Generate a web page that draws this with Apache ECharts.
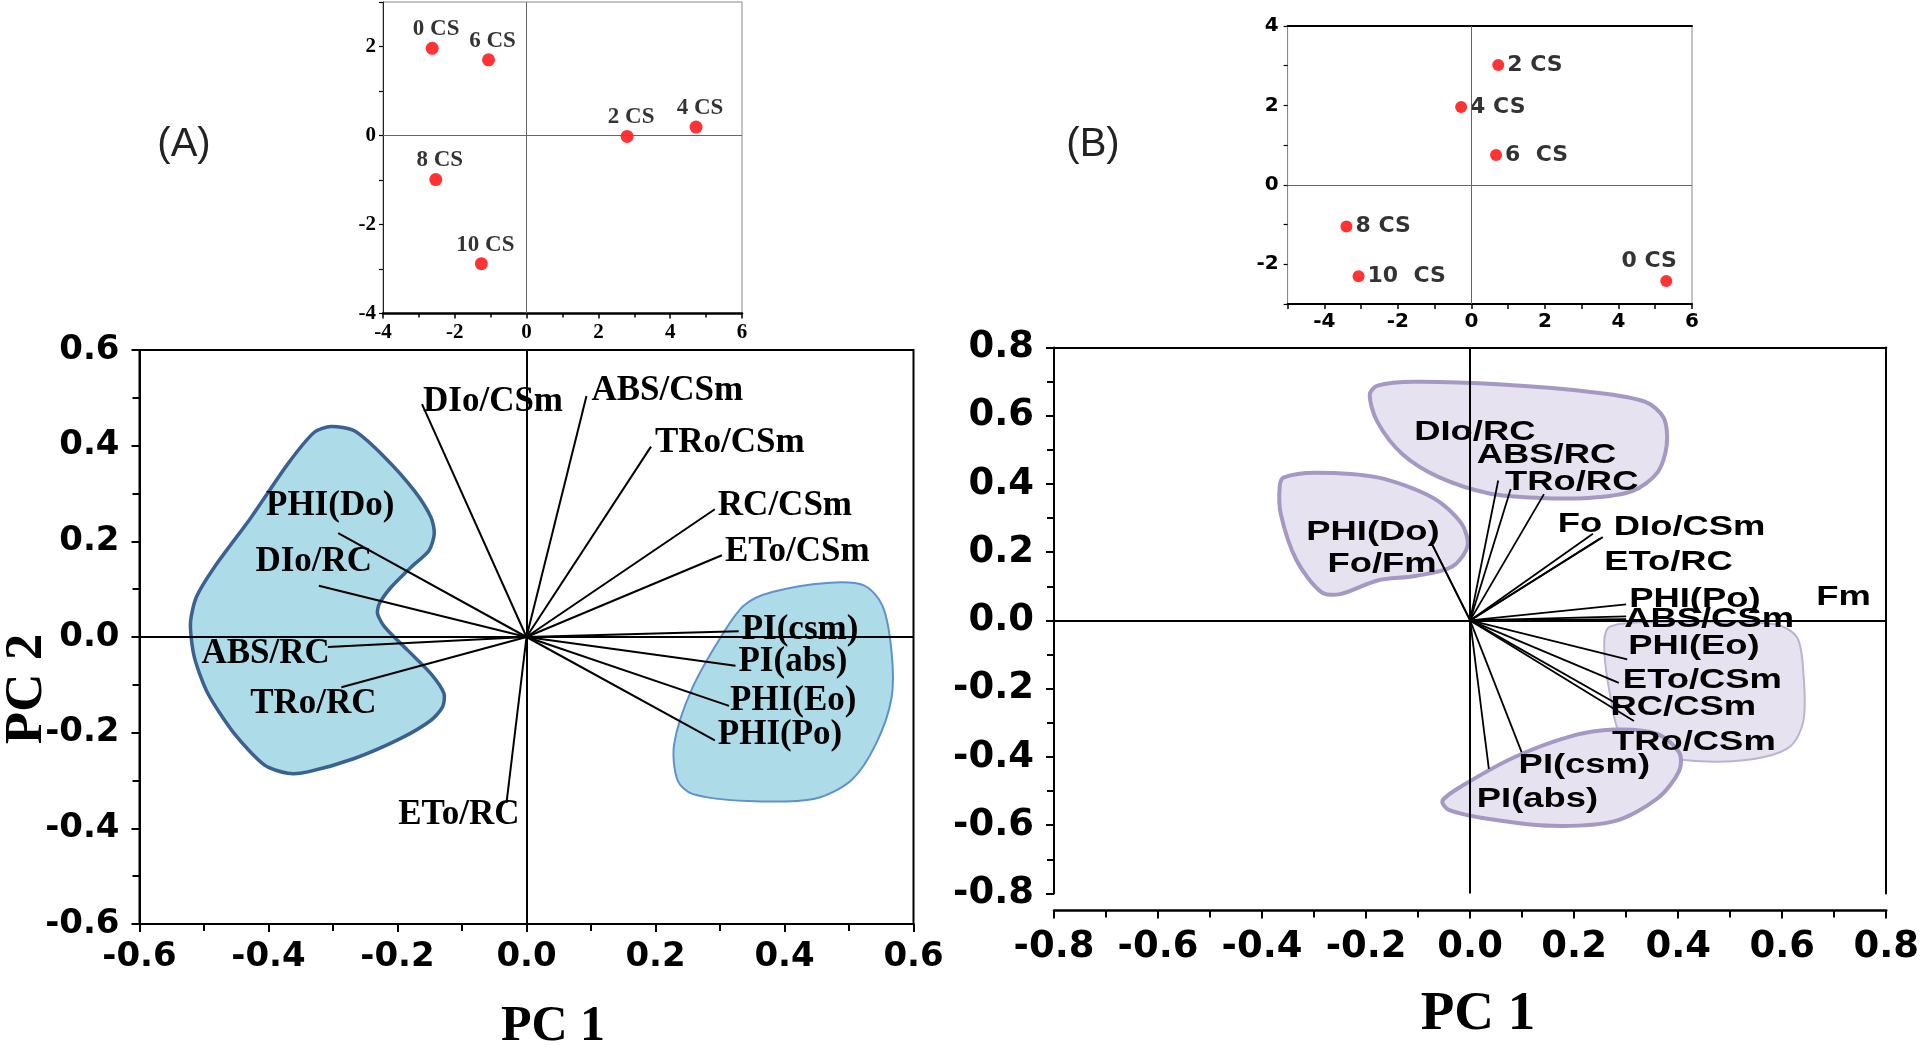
<!DOCTYPE html>
<html><head><meta charset="utf-8">
<script src="https://cdn.jsdelivr.net/npm/echarts@6/dist/echarts.min.js"></script>
<style>html,body{margin:0;padding:0;background:#fff}#c{width:1922px;height:1050px}</style>
</head><body><div id="c"></div>
<script>
// ---------- Inset score plots ----------
const insetACategories = ['0 CS', '6 CS', '2 CS', '4 CS', '8 CS', '10 CS'];
const insetAPC1 = [-2.63, -1.06, 2.80, 4.72, -2.53, -1.26];
const insetAPC2 = [1.96, 1.70, -0.02, 0.19, -0.99, -2.88];

const insetBCategories = ['2 CS', '4 CS', '6  CS', '8 CS', '10  CS', '0 CS'];
const insetBPC1 = [0.73, -0.28, 0.67, -3.40, -3.07, 5.30];
const insetBPC2 = [3.02, 1.96, 0.75, -1.05, -2.30, -2.42];

// ---------- Loading plot (A) ----------
const loadingANames = ['DIo/CSm', 'ABS/CSm', 'TRo/CSm', 'RC/CSm', 'ETo/CSm', 'PI(csm)', 'PI(abs)', 'PHI(Eo)', 'PHI(Po)', 'ETo/RC', 'PHI(Do)', 'DIo/RC', 'ABS/RC', 'TRo/RC'];
const loadingAPC1 = [-0.162, 0.093, 0.193, 0.292, 0.303, 0.329, 0.324, 0.314, 0.292, -0.031, -0.292, -0.322, -0.308, -0.287];
const loadingAPC2 = [0.487, 0.504, 0.398, 0.267, 0.171, 0.012, -0.060, -0.144, -0.216, -0.347, 0.217, 0.107, -0.021, -0.105];

// ---------- Loading plot (B) ----------
const loadingBNames = ['DIo/RC', 'ABS/RC', 'TRo/RC', 'Fo', 'DIo/CSm', 'ETo/RC', 'PHI(Po)', 'Fm', 'ABS/CSm', 'PHI(Eo)', 'ETo/CSm', 'RC/CSm', 'TRo/CSm', 'PI(csm)', 'PI(abs)', 'PHI(Do)', 'Fo/Fm'];
const loadingBPC1 = [0.054, 0.078, 0.142, 0.236, 0.255, 0.250, 0.300, 0.300, 0.300, 0.302, 0.286, 0.293, 0.315, 0.099, 0.036, -0.072, -0.072];
const loadingBPC2 = [0.410, 0.385, 0.370, 0.254, 0.244, 0.240, 0.047, 0.004, 0.012, -0.114, -0.183, -0.254, -0.295, -0.386, -0.435, 0.220, 0.220];

// ---------- Group outlines (data coordinates) ----------
const hullALeft = [[-0.303,0.440],[-0.267,0.431],[-0.220,0.376],[-0.174,0.306],[-0.148,0.250],[-0.143,0.216],[-0.151,0.181],[-0.179,0.146],[-0.210,0.104],[-0.228,0.070],[-0.231,0.049],[-0.220,0.021],[-0.184,-0.028],[-0.148,-0.077],[-0.128,-0.118],[-0.130,-0.146],[-0.148,-0.174],[-0.195,-0.212],[-0.267,-0.254],[-0.339,-0.282],[-0.370,-0.285],[-0.406,-0.268],[-0.453,-0.202],[-0.494,-0.118],[-0.515,-0.042],[-0.521,0.028],[-0.512,0.083],[-0.484,0.146],[-0.427,0.250],[-0.370,0.362],[-0.329,0.428]];
const hullARight = [[0.338,0.067],[0.381,0.094],[0.466,0.113],[0.523,0.108],[0.552,0.065],[0.566,-0.031],[0.566,-0.127],[0.542,-0.223],[0.504,-0.299],[0.447,-0.338],[0.343,-0.343],[0.257,-0.328],[0.234,-0.299],[0.229,-0.223],[0.257,-0.107],[0.305,0.008]];
const hullBTop = [[-0.178,0.688],[-0.106,0.699],[0.061,0.691],[0.240,0.668],[0.336,0.641],[0.372,0.594],[0.378,0.514],[0.360,0.433],[0.312,0.379],[0.228,0.359],[0.133,0.359],[0.037,0.372],[-0.059,0.419],[-0.130,0.487],[-0.178,0.581],[-0.193,0.661]];
const hullBLeft = [[-0.358,0.419],[-0.298,0.433],[-0.178,0.419],[-0.071,0.359],[-0.017,0.285],[-0.005,0.218],[-0.035,0.157],[-0.106,0.130],[-0.178,0.117],[-0.250,0.077],[-0.286,0.083],[-0.334,0.177],[-0.364,0.312],[-0.366,0.393]];
const hullBRight = [[0.264,-0.024],[0.300,-0.008],[0.420,-0.004],[0.587,-0.011],[0.629,-0.051],[0.641,-0.159],[0.641,-0.293],[0.617,-0.367],[0.563,-0.401],[0.479,-0.414],[0.396,-0.407],[0.336,-0.387],[0.288,-0.333],[0.270,-0.226],[0.258,-0.091]];
const hullBBottom = [[-0.053,-0.528],[-0.011,-0.481],[0.085,-0.401],[0.193,-0.340],[0.276,-0.320],[0.360,-0.333],[0.402,-0.387],[0.402,-0.441],[0.360,-0.522],[0.276,-0.589],[0.157,-0.602],[0.037,-0.582],[-0.041,-0.555]];

// ---------- Tick labels ----------
const mainATickValues = [-0.6, -0.4, -0.2, 0, 0.2, 0.4, 0.6];
const mainATickLabels = ['-0.6', '-0.4', '-0.2', '0.0', '0.2', '0.4', '0.6'];
const mainBTickValues = [-0.8, -0.6, -0.4, -0.2, 0, 0.2, 0.4, 0.6, 0.8];
const mainBTickLabels = ['-0.8', '-0.6', '-0.4', '-0.2', '0.0', '0.2', '0.4', '0.6', '0.8'];
const insetTickValues = [-4, -2, 0, 2, 4, 6];
const insetTickLabels = ['-4', '-2', '0', '2', '4', '6'];

// ---------- Presentation (not data) ----------
const placeA = [['left',1,-2],['left',5,-5],['left',4,-4],['left',3,-3],['left',3,-3],['left',3,-1],['left',3,-4],['left',1,-5],['left',3,-5],['right',13,12],['center',-8,-27],['center',-5,-24],['right',2,7],['center',-28,17]];
const placeB = [['left',-84,-48],['left',-34,-34],['left',-39,-12],['left',-35,-9],['left',11,-10],['left',4,24],['left',3,-5],['left',190,-22],['left',-2,3],['left',1,-13],['left',4,-3],['left',-12,0],['left',-22,21],['left',-3,13],['left',-12,30],['right',7,-13],['right',4,19]];

function lookup(values, labels) {
  return function (v) {
    const i = values.findIndex(t => Math.abs(t - v) < 1e-6);
    return i < 0 ? '' : labels[i];
  };
}
function zip(a, b) { return a.map((v, i) => [v, b[i]]); }

function hullRenderer(hulls, styles) {
  return function (params, api) {
    const h = hulls[params.dataIndex];
    const st = styles[params.dataIndex];
    return {
      type: 'polygon',
      shape: { points: h.map(p => api.coord(p)), smooth: st.smooth },
      style: { fill: st.fill, stroke: st.stroke, lineWidth: st.lw }
    };
  };
}
function vecRenderer(names, place, font, sx, lw) {
  return function (params, api) {
    const i = params.dataIndex;
    const o = api.coord([0, 0]);
    const e = api.coord([api.value(0), api.value(1)]);
    const p = place[i];
    return {
      type: 'group',
      children: [
        { type: 'line', shape: { x1: o[0], y1: o[1], x2: e[0], y2: e[1] }, style: { stroke: '#000', lineWidth: lw } },
        { type: 'text', x: e[0] + p[1], y: e[1] + p[2], scaleX: sx,
          style: { text: names[i], font: font, fill: '#000', align: p[0], textAlign: p[0], verticalAlign: 'middle', textVerticalAlign: 'middle' } }
      ]
    };
  };
}

const zeroLines = (w, c) => ({
  silent: true, symbol: ['none', 'none'], label: { show: false }, animation: false,
  lineStyle: { color: c, width: w, type: 'solid' },
  data: [{ xAxis: 0 }, { yAxis: 0 }]
});

const mainLabelA = { fontFamily: 'DejaVu Sans', fontWeight: 'bold', fontSize: 34, color: '#000' };
const mainLabelB = { fontFamily: 'DejaVu Sans', fontWeight: 'bold', fontSize: 37, color: '#000' };
const insetLabelA = { fontFamily: 'Liberation Serif', fontWeight: 'bold', fontSize: 21, color: '#000' };
const insetLabelB = { fontFamily: 'DejaVu Sans', fontWeight: 'bold', fontSize: 20, color: '#000' };

function valAxis(grid, min, max, interval, extra) {
  return Object.assign({
    type: 'value', gridIndex: grid, min: min, max: max, interval: interval,
    splitLine: { show: false },
    axisLine: { onZero: false, lineStyle: { color: '#000', width: 2 } },
    axisTick: { show: true, inside: false, length: 8, lineStyle: { color: '#000', width: 2 } }
  }, extra);
}

const chart = echarts.init(document.getElementById('c'), null, { renderer: 'canvas' });
chart.setOption({
  animation: false,
  backgroundColor: '#fff',
  grid: [
    { left: 139.5, top: 350, width: 774, height: 574, show: true, borderColor: '#000', borderWidth: 2, backgroundColor: 'transparent' },
    { left: 383, top: 2, width: 359, height: 311.5, show: true, borderColor: '#888', borderWidth: 1, backgroundColor: 'transparent' },
    { left: 1054, top: 347.4, width: 838, height: 546, show: false },
    { left: 1287.6, top: 26, width: 404.4, height: 278, show: true, borderColor: '#888', borderWidth: 1, backgroundColor: 'transparent' }
  ],
  xAxis: [
    valAxis(0, -0.6, 0.6, 0.2, {
      minorTick: { show: true, splitNumber: 2, length: 7, lineStyle: { color: '#000', width: 2 } },
      axisLabel: Object.assign({ margin: 16, formatter: lookup(mainATickValues, mainATickLabels) }, mainLabelA)
    }),
    valAxis(1, -4, 6, 2, {
      axisLine: { onZero: false, lineStyle: { color: '#000', width: 2.5 } },
      axisTick: { length: 5, lineStyle: { color: '#000', width: 1.5 } },
      minorTick: { show: true, splitNumber: 2, length: 4, lineStyle: { color: '#000', width: 1.5 } },
      axisLabel: Object.assign({ margin: 9, formatter: lookup(insetTickValues, insetTickLabels) }, insetLabelA)
    }),
    valAxis(2, -0.8, 0.8, 0.2, {
      offset: 17,
      axisLine: { onZero: false, lineStyle: { color: '#000', width: 2.5 } },
      minorTick: { show: true, splitNumber: 2, length: 7, lineStyle: { color: '#000', width: 2 } },
      axisLabel: Object.assign({ margin: 18, formatter: lookup(mainBTickValues, mainBTickLabels) }, mainLabelB)
    }),
    valAxis(3, -5, 6, 1, {
      axisLine: { onZero: false, lineStyle: { color: '#000', width: 2 } },
      axisTick: { length: 5, lineStyle: { color: '#000', width: 1.5 } },
      axisLabel: Object.assign({ margin: 8, formatter: lookup(insetTickValues, insetTickLabels) }, insetLabelB)
    }),
    valAxis(2, -0.8, 0.8, 0.2, { position: 'top', axisTick: { show: false }, axisLabel: { show: false } }),
    valAxis(3, -5, 6, 1, { position: 'top', axisTick: { show: false }, axisLabel: { show: false } })
  ],
  yAxis: [
    valAxis(0, -0.6, 0.6, 0.2, {
      minorTick: { show: true, splitNumber: 2, length: 7, lineStyle: { color: '#000', width: 2 } },
      axisLabel: Object.assign({ margin: 20, formatter: lookup(mainATickValues, mainATickLabels) }, mainLabelA)
    }),
    valAxis(1, -4, 3, 1, {
      axisLine: { onZero: false, lineStyle: { color: '#222', width: 1 } },
      axisTick: { length: 4, lineStyle: { color: '#000', width: 1.2 } },
      axisLabel: Object.assign({ margin: 7, formatter: lookup(insetTickValues, insetTickLabels) }, insetLabelA)
    }),
    valAxis(2, -0.8, 0.8, 0.2, {
      minorTick: { show: true, splitNumber: 2, length: 7, lineStyle: { color: '#000', width: 2 } },
      axisLabel: Object.assign({ margin: 20, formatter: lookup(mainBTickValues, mainBTickLabels) }, mainLabelB)
    }),
    valAxis(3, -3, 4, 1, {
      axisLine: { onZero: false, lineStyle: { color: '#888', width: 1 } },
      axisTick: { length: 4, lineStyle: { color: '#000', width: 1.2 } },
      axisLabel: Object.assign({ margin: 9, formatter: lookup(insetTickValues, insetTickLabels) }, insetLabelB)
    }),
    valAxis(2, -0.8, 0.8, 0.2, { position: 'right', axisTick: { show: false }, axisLabel: { show: false } })
  ],
  series: [
    // Panel A groups
    { type: 'custom', xAxisIndex: 0, yAxisIndex: 0, z: 1,
      data: [hullALeft[0], hullARight[0]],
      renderItem: hullRenderer([hullALeft, hullARight], [
        { fill: '#ADDCE8', stroke: '#3A6190', lw: 3.5, smooth: 0.25 },
        { fill: '#ADDCE8', stroke: '#5E92C8', lw: 2, smooth: 0.3 }
      ]) },
    // Panel A loadings
    { type: 'custom', xAxisIndex: 0, yAxisIndex: 0, z: 3,
      data: zip(loadingAPC1, loadingAPC2),
      renderItem: vecRenderer(loadingANames, placeA, 'bold 35px "Liberation Serif"', 1, 2),
      markLine: zeroLines(2, '#000') },
    // Panel B groups
    { type: 'custom', xAxisIndex: 2, yAxisIndex: 2, z: 1,
      data: [hullBTop[0], hullBLeft[0], hullBRight[0], hullBBottom[0]],
      renderItem: hullRenderer([hullBTop, hullBLeft, hullBRight, hullBBottom], [
        { fill: '#E7E2EF', stroke: '#A598C3', lw: 4, smooth: 0.3 },
        { fill: '#E7E2EF', stroke: '#A598C3', lw: 4, smooth: 0.3 },
        { fill: '#E7E2EF', stroke: '#BDB2D3', lw: 2, smooth: 0.3 },
        { fill: '#E7E2EF', stroke: '#A598C3', lw: 4, smooth: 0.3 }
      ]) },
    // Panel B loadings
    { type: 'custom', xAxisIndex: 2, yAxisIndex: 2, z: 3,
      data: zip(loadingBPC1, loadingBPC2),
      renderItem: vecRenderer(loadingBNames, placeB, 'bold 28px "Liberation Sans"', 1.3, 1.8),
      markLine: zeroLines(2, '#000') },
    // Inset A scores
    { type: 'scatter', xAxisIndex: 1, yAxisIndex: 1, z: 3, symbol: 'circle', symbolSize: 13,
      itemStyle: { color: '#FF0000' },
      data: insetAPC1.map((v, i) => ({ value: [v, insetAPC2[i]], name: insetACategories[i] })),
      label: { show: true, position: 'top', distance: 1, offset: [4, 0], formatter: p => p.name,
        fontFamily: 'Liberation Serif', fontWeight: 'bold', fontSize: 23, color: '#000' },
      markLine: zeroLines(1, '#666') },
    // Inset B scores
    { type: 'scatter', xAxisIndex: 3, yAxisIndex: 3, z: 3, symbol: 'circle', symbolSize: 12,
      itemStyle: { color: '#FF0000' },
      data: insetBPC1.map((v, i) => ({ value: [v, insetBPC2[i]], name: insetBCategories[i],
        label: insetBCategories[i] === '0 CS' ? { position: 'top', distance: 3, offset: [-17, 0] } : undefined })),
      label: { show: true, position: 'right', distance: 3, formatter: p => p.name,
        fontFamily: 'DejaVu Sans', fontWeight: 'bold', fontSize: 22, color: '#000' },
      markLine: zeroLines(1, '#666') }
  ],
  graphic: [
    { type: 'text', x: 184, y: 145, style: { text: '(A)', font: '40px "Liberation Sans"', fill: '#222', align: 'center', verticalAlign: 'middle' } },
    { type: 'text', x: 1093, y: 145, style: { text: '(B)', font: '40px "Liberation Sans"', fill: '#222', align: 'center', verticalAlign: 'middle' } },
    { type: 'text', x: 553, y: 1027, style: { text: 'PC 1', font: 'bold 50px "Liberation Serif"', fill: '#000', align: 'center', verticalAlign: 'middle' } },
    { type: 'text', x: 1478, y: 1015, style: { text: 'PC 1', font: 'bold 55px "Liberation Serif"', fill: '#000', align: 'center', verticalAlign: 'middle' } },
    { type: 'text', x: 27, y: 689, rotation: Math.PI / 2, style: { text: 'PC 2', font: 'bold 53px "Liberation Serif"', fill: '#000', align: 'center', verticalAlign: 'middle' } }
  ]
});
</script>
</body></html>
